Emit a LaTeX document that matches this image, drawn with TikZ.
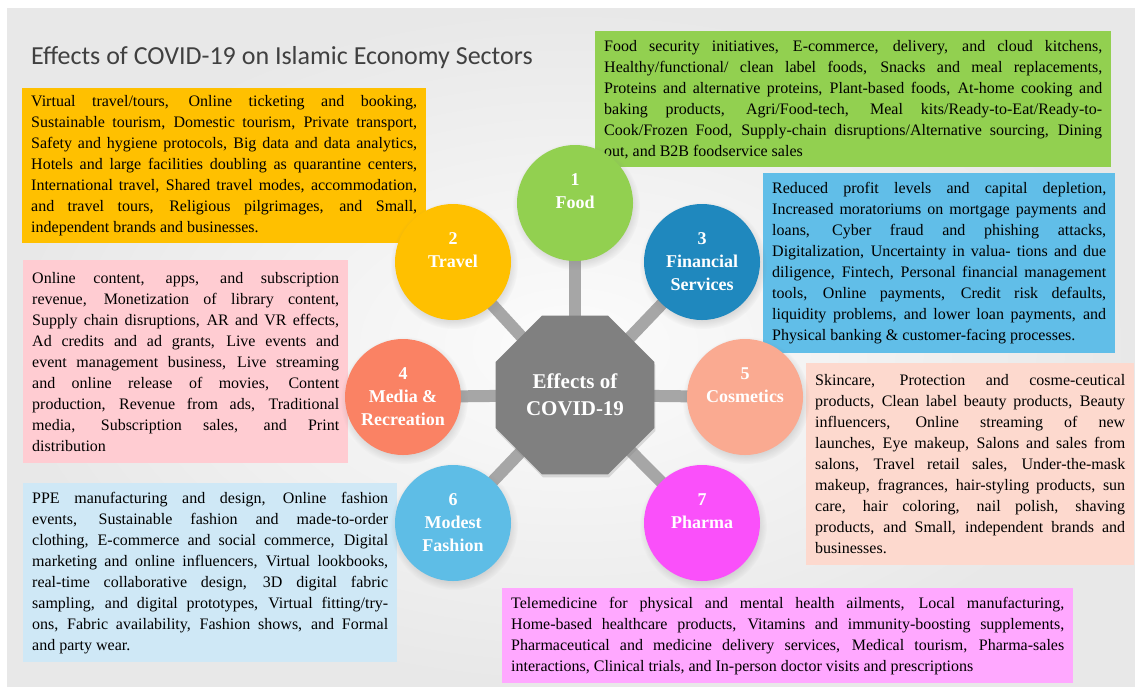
\documentclass[tikz,border=0pt]{standalone}
\usepackage{fontspec}
\setmainfont{Liberation Serif}
\newfontfamily\titlefont{Carlito}
\usetikzlibrary{shapes.geometric,shadows}

\pgfdeclarelayer{slide}
\pgfdeclarelayer{spokes}
\pgfsetlayers{slide,spokes,main}

\definecolor{slidelight}{RGB}{252,252,252}
\definecolor{slidedark}{RGB}{232,232,232}
\definecolor{titlegray}{RGB}{64,64,64}
\definecolor{foodgreen}{RGB}{146,208,80}
\definecolor{travelgold}{RGB}{255,192,0}
\definecolor{finbox}{RGB}{97,190,232}
\definecolor{fincirc}{RGB}{31,136,190}
\definecolor{mediabox}{RGB}{255,204,210}
\definecolor{mediacirc}{RGB}{250,130,100}
\definecolor{cosmbox}{RGB}{253,217,206}
\definecolor{cosmcirc}{RGB}{250,170,145}
\definecolor{modestbox}{RGB}{207,232,246}
\definecolor{modestcirc}{RGB}{94,189,230}
\definecolor{pharmabox}{RGB}{255,168,255}
\definecolor{pharmacirc}{RGB}{250,80,250}
\definecolor{hubgray}{RGB}{128,128,128}
\definecolor{spokegray}{RGB}{166,166,166}

\tolerance=9999
\hyphenpenalty=10000

\tikzset{
  titletext/.style={anchor=base west, inner sep=0pt, text=titlegray, font=\titlefont\fontsize{26}{30}\selectfont},
  infobox/.style={anchor=north west, inner xsep=9pt, inner ysep=3pt, align=justify, text=black, font=\fontsize{16}{21}\selectfont},
  sector/.style={circle, minimum size=116pt, inner sep=0pt, align=center, text=white,
    font=\bfseries\fontsize{18}{23}\selectfont,
    circular drop shadow={shadow xshift=1pt, shadow yshift=-3pt, opacity=.25}},
  hub/.style={regular polygon, regular polygon sides=8, minimum size=172pt, inner sep=0pt, fill=hubgray, align=center, text=white,
    font=\bfseries\fontsize{21}{27}\selectfont,
    drop shadow={shadow xshift=1pt, shadow yshift=-3pt, opacity=.25}},
  spoke/.style={line width=12pt, draw=spokegray},
}

\begin{document}
\begin{tikzpicture}[x=1pt,y=1pt,yscale=-1]
\useasboundingbox (0,0) rectangle (1135,686); %picture is 1135 wide, 686 high

% slide background
\begin{pgfonlayer}{slide}
\fill[white] (0,0) rectangle (1135,686);
\shade[inner color=slidelight, outer color=slidedark] (7,8) rectangle (1135,686);
\end{pgfonlayer}

% Text Node
\node[titletext] (title) at (31,64) {Effects of COVID-19 on Islamic Economy Sectors};

% Text Node
\node[infobox, fill=foodgreen, text width=498pt, minimum height=136pt] (foodtxt) at (595,31) {Food security initiatives, E-commerce, delivery, and cloud kitchens,\linebreak Healthy/functional/ clean label foods, Snacks and meal replacements,\linebreak Proteins and alternative proteins, Plant-based foods, At-home cooking and\linebreak baking products, Agri/Food-tech, Meal kits/Ready-to-Eat/Ready-to-\linebreak Cook/Frozen Food, Supply-chain disruptions/Alternative sourcing, Dining\linebreak out, and B2B foodservice sales};
% Text Node
\node[infobox, fill=travelgold, text width=386pt, minimum height=155pt] (traveltxt) at (22,88) {Virtual travel/tours, Online ticketing and booking,\linebreak Sustainable tourism, Domestic tourism, Private transport,\linebreak Safety and hygiene protocols, Big data and data analytics,\linebreak Hotels and large facilities doubling as quarantine centers,\linebreak International travel, Shared travel modes, accommodation,\linebreak and travel tours, Religious pilgrimages, and Small,\linebreak independent brands and businesses.};
% Text Node
\node[infobox, fill=finbox, text width=334pt, minimum height=180pt] (fintxt) at (763,173) {Reduced profit levels and capital depletion,\linebreak Increased moratoriums on mortgage payments and\linebreak loans, Cyber fraud and phishing attacks,\linebreak Digitalization, Uncertainty in valua- tions and due\linebreak diligence, Fintech, Personal financial management\linebreak tools, Online payments, Credit risk defaults,\linebreak liquidity problems, and lower loan payments, and\linebreak Physical banking \& customer-facing processes.};
% Text Node
\node[infobox, fill=mediabox, text width=307pt, minimum height=203pt] (mediatxt) at (23,260) {Online content, apps, and subscription\linebreak revenue, Monetization of library content,\linebreak Supply chain disruptions, AR and VR effects,\linebreak Ad credits and ad grants, Live events and\linebreak event management business, Live streaming\linebreak and online release of movies, Content\linebreak production, Revenue from ads, Traditional\linebreak media, Subscription sales, and Print\linebreak distribution};
% Text Node
\node[infobox, fill=cosmbox, text width=310pt, minimum height=202pt] (cosmtxt) at (806,363) {Skincare, Protection and cosme-ceutical\linebreak products, Clean label beauty products, Beauty\linebreak influencers, Online streaming of new\linebreak launches, Eye makeup, Salons and sales from\linebreak salons, Travel retail sales, Under-the-mask\linebreak makeup, fragrances, hair-styling products, sun\linebreak care, hair coloring, nail polish, shaving\linebreak products, and Small, independent brands and\linebreak businesses.};
% Text Node
\node[infobox, fill=modestbox, text width=356pt, minimum height=179pt] (modesttxt) at (23,483) {PPE manufacturing and design, Online fashion\linebreak events, Sustainable fashion and made-to-order\linebreak clothing, E-commerce and social commerce, Digital\linebreak marketing and online influencers, Virtual lookbooks,\linebreak real-time collaborative design, 3D digital fabric\linebreak sampling, and digital prototypes, Virtual fitting/try-\linebreak ons, Fabric availability, Fashion shows, and Formal\linebreak and party wear.};
% Text Node
\node[infobox, fill=pharmabox, text width=553pt, minimum height=95pt] (pharmatxt) at (502,588) {Telemedicine for physical and mental health ailments, Local manufacturing,\linebreak Home-based healthcare products, Vitamins and immunity-boosting supplements,\linebreak Pharmaceutical and medicine delivery services, Medical tourism, Pharma-sales\linebreak interactions, Clinical trials, and In-person doctor visits and prescriptions};

%Shape: Circle
\node[sector, fill=foodgreen] (food) at (575,203) {1\\Food\\~};
\node[sector, fill=travelgold] (travel) at (453,262) {2\\Travel\\~};
\node[sector, fill=fincirc] (fin) at (702,262) {3\\Financial\\Services};
\node[sector, fill=mediacirc] (media) at (403,397) {4\\Media \&\\Recreation};
\node[sector, fill=cosmcirc] (cosm) at (745,397) {5\\Cosmetics\\~};
\node[sector, fill=modestcirc] (modest) at (453,523) {6\\Modest\\Fashion};
\node[sector, fill=pharmacirc] (pharma) at (702,523) {7\\Pharma\\~};

%Shape: Octagon
\node[hub] (hub) at (575,395) {Effects of\\COVID-19};

%Straight Lines
\begin{pgfonlayer}{spokes}
\foreach \s in {food,travel,fin,media,cosm,modest,pharma}
  \draw[spoke] (hub.center) -- (\s.center);
\end{pgfonlayer}

\end{tikzpicture}
\end{document}
